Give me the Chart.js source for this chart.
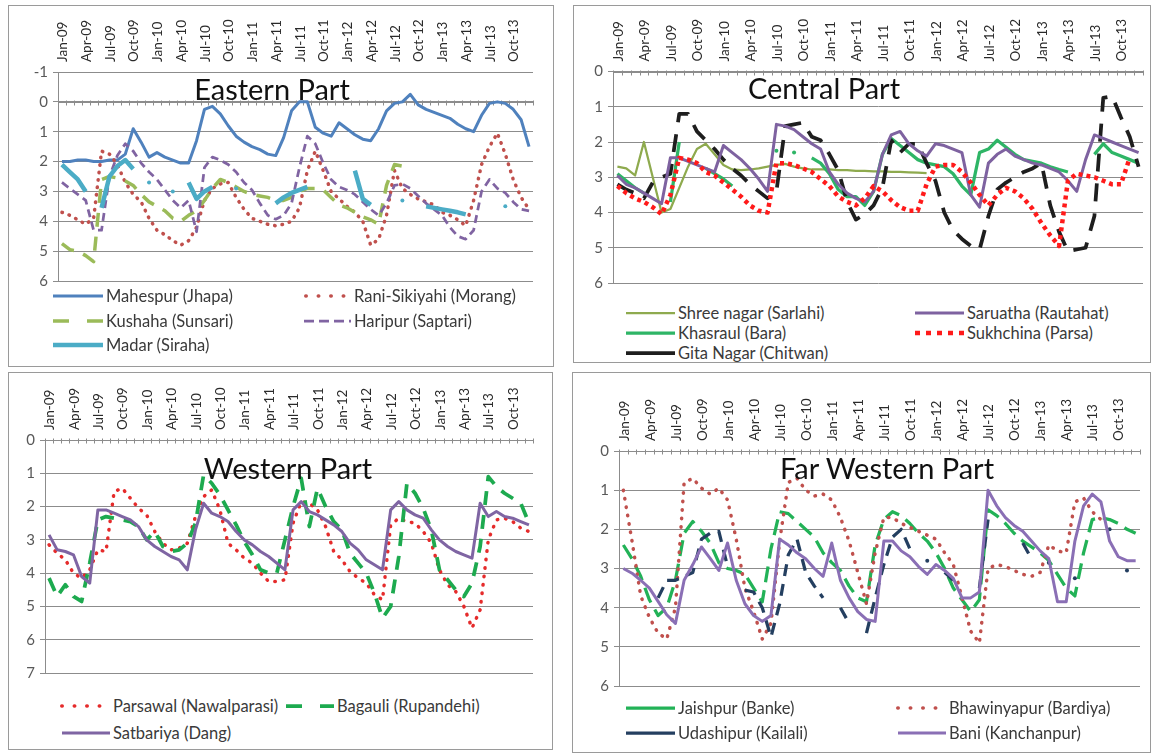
<!DOCTYPE html>
<html><head><meta charset="utf-8">
<script src="https://cdn.jsdelivr.net/npm/chart.js@4.4.1/dist/chart.umd.min.js"></script>
<style>
body{margin:0;background:#fff;width:1155px;height:754px;position:relative;overflow:hidden;font-family:Lato,"Open Sans",sans-serif;}
.panel{position:absolute;border:1px solid #9a9a9a;box-sizing:border-box;}
.cv{position:absolute;}
.ttl{position:absolute;font-size:29px;color:#111;white-space:nowrap;transform:translate(-50%,-50%);}
.lg{position:absolute;font-size:16.5px;color:#3a3a3a;white-space:nowrap;transform:translateY(-50%);}
.sw{position:absolute;transform:translateY(-50%);}
</style></head><body>
<div class="panel" style="left:8px;top:5px;width:546px;height:362px"></div>
<div class="panel" style="left:573px;top:5px;width:578px;height:358px"></div>
<div class="panel" style="left:8px;top:372px;width:545px;height:378px"></div>
<div class="panel" style="left:572px;top:372px;width:579px;height:381px"></div>
<canvas id="c1" class="cv" style="left:8px;top:5px" width="545" height="290"></canvas>
<canvas id="c2" class="cv" style="left:573px;top:5px" width="578" height="292"></canvas>
<canvas id="c3" class="cv" style="left:8px;top:372px" width="545" height="315"></canvas>
<canvas id="c4" class="cv" style="left:572px;top:372px" width="579" height="328"></canvas>
<div class="ttl" style="left:272px;top:88px">Eastern Part</div>
<div class="ttl" style="left:824px;top:87px">Central Part</div>
<div class="ttl" style="left:288px;top:467px">Western Part</div>
<div class="ttl" style="left:887px;top:467px">Far Western Part</div>
<script>
const months = ["Jan-09","Feb-09","Mar-09","Apr-09","May-09","Jun-09","Jul-09","Aug-09","Sep-09","Oct-09","Nov-09","Dec-09",
"Jan-10","Feb-10","Mar-10","Apr-10","May-10","Jun-10","Jul-10","Aug-10","Sep-10","Oct-10","Nov-10","Dec-10",
"Jan-11","Feb-11","Mar-11","Apr-11","May-11","Jun-11","Jul-11","Aug-11","Sep-11","Oct-11","Nov-11","Dec-11",
"Jan-12","Feb-12","Mar-12","Apr-12","May-12","Jun-12","Jul-12","Aug-12","Sep-12","Oct-12","Nov-12","Dec-12",
"Jan-13","Feb-13","Mar-13","Apr-13","May-13","Jun-13","Jul-13","Aug-13","Sep-13","Oct-13","Nov-13","Dec-13"];

// Eastern Part
const mahespur = [2.0,2.0,1.95,1.95,2.0,2.0,1.95,1.95,1.75,0.9,
 1.35,1.85,1.7,1.85,1.95,2.05,2.05,1.3,0.25,0.15,
 0.4,0.8,1.15,1.35,1.5,1.6,1.75,1.8,1.2,0.3,
 0.0,0.0,0.85,1.05,1.15,0.7,0.9,1.1,1.25,1.3,
 0.9,0.3,0.05,0.0,-0.25,0.1,0.25,0.35,0.45,0.55,
 0.75,0.9,1.0,0.45,0.05,0.0,0.05,0.25,0.6,1.5];
const raniSikiyahi = [3.7,3.8,3.95,4.1,3.9,1.65,1.75,2.1,2.7,3.1,
 3.35,3.9,4.3,4.45,4.65,4.8,4.65,4.2,3.3,2.9,
 2.75,2.7,3.2,3.6,3.9,4.0,4.1,4.15,4.1,4.0,
 3.55,2.3,1.65,2.3,3.0,3.25,3.5,3.7,4.0,4.8,
 4.6,3.8,2.3,2.9,3.1,3.25,3.35,3.45,3.7,3.8,
 3.95,4.15,3.3,2.1,1.5,1.05,1.75,2.6,3.2,3.6];
const kushaha = [4.75,4.95,5.0,5.15,5.35,2.6,2.5,2.55,2.65,2.8,
 3.1,3.35,3.5,3.65,3.9,4.0,3.8,3.65,3.3,2.9,
 2.6,2.7,2.85,3.0,3.1,3.15,3.2,3.3,3.3,3.2,
 3.0,2.9,2.9,2.95,3.2,3.45,3.55,3.7,3.85,3.95,
 4.1,2.8,2.1,2.15,null,null,null,null,null,null,
 null,null,null,null,null,null,null,null,null,null];
const haripur = [2.7,2.9,3.1,3.3,4.3,4.3,2.5,1.8,1.4,1.65,
 2.05,2.35,2.6,2.95,3.3,3.55,3.3,4.35,2.2,1.85,
 1.95,2.1,2.35,2.7,2.95,3.4,3.8,3.93,3.8,3.4,
 2.2,1.15,1.4,2.05,2.6,2.85,2.95,3.1,3.35,3.6,
 3.8,3.4,2.8,2.75,2.9,3.15,3.4,3.6,3.8,4.2,
 4.5,4.6,4.3,3.0,2.6,2.9,3.05,3.35,3.6,3.65];
const madar = [2.1,2.35,2.6,3.0,null,3.55,2.5,2.15,1.95,2.25,
 null,2.7,null,null,3.0,null,2.7,3.25,3.0,2.85,
 null,null,2.9,null,null,null,null,3.4,3.2,3.05,
 2.95,2.85,null,null,null,null,null,2.3,3.25,3.45,
 null,null,null,3.3,null,null,3.5,3.55,3.6,3.65,
 3.7,3.77,null,null,null,null,3.5,null,null,null];

// Central Part
const shreeNagar = [2.7,2.75,2.95,2.0,3.0,4.0,3.9,3.3,2.7,2.2,
 2.05,2.35,2.65,2.78,2.8,2.78,2.75,2.7,2.65,2.62,
 2.7,2.75,2.78,2.78,2.78,2.8,2.8,2.82,2.82,2.83,
 2.83,2.85,2.85,2.86,2.87,2.88,null,null,null,null,
 null,null,null,null,null,null,null,null,null,null,
 null,null,null,null,null,null,null,null,null,null];
const khasraul = [2.9,3.1,3.3,3.45,null,null,3.7,2.0,null,null,
 2.75,2.9,3.05,3.25,null,null,null,null,2.25,null,
 2.3,null,2.45,2.6,2.9,3.35,3.55,3.55,3.8,3.4,
 2.35,1.9,2.1,2.3,2.5,2.6,2.65,2.7,2.9,3.25,
 3.5,2.3,2.2,1.95,2.15,2.35,2.5,2.55,2.6,2.7,
 2.78,2.85,null,null,2.35,2.05,2.3,2.4,2.5,2.6];
const gitaNagar = [3.2,3.35,3.45,3.6,3.15,3.0,2.9,1.2,1.2,1.7,
 1.95,2.2,2.5,2.75,2.95,3.2,3.4,3.6,3.4,1.55,
 1.5,1.45,1.85,1.95,2.35,2.8,3.7,4.2,4.05,3.8,
 3.3,1.95,2.3,2.05,2.05,2.6,3.1,4.0,4.5,4.75,
 4.95,5.05,4.1,3.35,3.15,3.0,2.85,2.75,2.6,3.8,
 4.55,5.1,5.05,5.0,4.1,0.75,0.7,1.3,1.85,2.7];
const saruatha = [2.95,3.2,3.3,3.45,3.6,3.75,2.45,2.45,2.55,2.65,
 2.75,2.85,2.1,2.3,2.5,2.75,3.05,3.4,1.5,1.55,
 1.65,1.85,2.05,2.2,2.85,3.2,3.45,3.6,3.7,3.4,
 2.35,1.8,1.7,2.05,2.25,2.4,2.05,2.1,2.2,2.3,
 3.5,3.85,2.6,2.35,2.2,2.4,2.5,2.6,2.65,2.75,
 2.85,3.1,3.4,2.5,1.8,1.9,2.0,2.1,2.2,2.3];
const sukhchina = [3.25,3.45,3.6,3.7,3.85,4.05,3.5,2.45,2.5,2.6,
 2.85,2.95,3.15,3.35,3.55,3.8,3.95,4.0,2.6,2.6,
 2.65,2.75,2.85,3.05,3.25,3.55,3.7,3.8,3.6,3.25,
 3.4,3.65,3.85,3.95,3.95,3.2,2.7,2.65,2.65,2.85,
 3.15,3.5,3.8,3.5,3.3,3.4,3.6,3.9,4.3,4.65,
 4.95,3.1,2.9,2.95,3.0,3.1,3.2,3.2,2.45,null];

// Western Part
const parsawal = [3.15,3.4,3.6,4.0,4.15,3.9,3.3,3.35,1.55,1.45,
 1.75,2.05,2.25,2.75,3.1,3.3,3.25,3.1,2.3,1.7,
 1.5,2.1,3.1,3.3,3.55,3.7,4.0,4.25,4.25,4.2,
 2.5,1.85,1.9,2.1,2.6,3.35,3.6,3.95,4.15,4.3,
 4.65,4.8,2.55,2.35,2.45,2.5,2.75,3.1,3.9,4.35,
 4.55,5.0,5.65,5.1,3.0,2.4,2.35,2.45,2.65,2.75];
const bagauli = [4.15,4.7,4.35,4.7,4.85,3.7,2.4,2.3,2.35,2.4,
 2.45,2.6,3.0,2.75,3.2,3.35,3.3,3.1,2.5,1.05,
 1.3,1.65,2.1,2.55,3.05,3.45,3.9,4.0,4.0,3.0,
 2.0,1.15,2.6,1.45,2.0,2.45,2.7,3.4,3.7,4.0,
 4.6,5.35,5.0,3.5,1.3,1.6,2.05,2.7,3.9,4.2,
 4.5,4.7,4.3,3.2,1.1,1.4,1.6,1.75,1.9,2.5];
const satbariya = [2.85,3.3,3.35,3.45,4.1,4.3,2.1,2.1,2.2,2.3,
 2.4,2.6,3.0,3.2,3.35,3.5,3.6,3.9,2.7,1.9,
 2.2,2.3,2.45,2.75,3.0,3.15,3.35,3.5,3.7,3.9,
 2.1,1.85,2.15,2.25,2.4,2.55,2.75,3.1,3.3,3.6,
 3.75,3.9,2.1,1.85,2.1,2.25,2.35,2.7,3.0,3.2,
 3.35,3.45,3.55,1.9,2.3,2.15,2.3,2.35,2.45,2.55];

// Far Western Part
const jaishpur = [2.4,2.75,3.2,3.8,4.2,4.0,3.3,2.1,1.8,2.05,
 2.35,2.85,3.0,3.05,3.15,3.5,3.85,2.5,1.55,1.6,
 1.8,2.0,2.2,2.6,2.85,3.05,3.45,3.75,3.85,2.4,
 1.75,1.55,1.65,1.85,2.1,2.3,2.6,3.0,3.5,3.8,
 4.1,3.8,1.5,1.65,1.85,2.1,2.3,2.45,2.6,2.8,
 3.15,3.5,3.7,2.6,1.75,1.7,1.75,1.85,2.0,2.1];
const bhawinyapur = [1.0,2.3,3.7,4.25,4.65,4.8,4.0,0.8,0.7,0.95,
 1.1,0.95,1.25,2.25,3.5,4.1,4.8,4.4,2.3,0.8,
 0.7,1.0,1.15,1.1,1.25,1.7,2.3,3.1,3.9,2.6,
 1.7,1.7,1.85,1.95,2.05,2.15,2.25,2.6,2.9,3.75,
 4.6,4.9,3.0,2.9,2.95,3.05,3.15,3.2,3.1,2.4,
 2.55,2.6,1.3,1.2,1.55,1.75,null,null,null,null];
const udashipur = [null,null,null,null,3.75,3.3,3.3,3.2,3.1,2.25,
 2.1,2.05,2.95,null,3.55,3.6,4.0,4.75,3.9,2.65,
 2.25,3.1,3.45,3.75,null,4.0,4.4,null,4.65,3.75,
 2.9,2.2,2.0,2.5,null,2.8,null,3.1,3.3,null,
 null,3.5,1.75,null,null,null,2.35,2.75,null,2.85,
 null,null,3.25,null,null,null,2.0,null,3.05,null];
const bani = [3.0,3.12,3.3,3.5,3.84,4.18,4.4,3.3,2.9,2.45,
 2.74,3.05,2.35,3.3,3.9,4.2,4.35,4.2,2.25,2.4,
 2.6,2.75,3.0,3.2,2.35,3.3,3.75,4.1,4.3,4.35,
 2.3,2.3,2.55,2.7,2.95,3.15,2.9,3.05,3.25,3.75,
 3.75,3.6,1.0,1.4,1.7,1.9,2.05,2.3,2.55,2.75,
 3.85,3.85,2.3,1.4,1.1,1.3,2.3,2.7,2.8,2.8];

const GRID = '#8c8c8c';
const FONT = 'Lato, "Open Sans", sans-serif';

function isoRadius(ctx){
  const d = ctx.dataset.data, i = ctx.dataIndex;
  if (d[i] == null) return 0;
  const p = i > 0 ? d[i-1] : null, n = i < d.length-1 ? d[i+1] : null;
  return (p == null && n == null) ? 2 : 0;
}

const zeroTicks = {
  id: 'zeroTicks',
  beforeDatasetsDraw(chart){
    const x = chart.scales.x, y = chart.scales.y, ctx = chart.ctx;
    const y0 = Math.round(y.getPixelForValue(0)) + 0.5;
    const n = chart.data.labels.length, w = (x.right - x.left) / n;
    ctx.save(); ctx.strokeStyle = GRID; ctx.lineWidth = 1; ctx.beginPath();
    for (let i = 0; i <= n; i++){ const px = Math.round(x.left + i*w) + 0.5; ctx.moveTo(px, y0-2); ctx.lineTo(px, y0+3); }
    ctx.moveTo(x.left, y0); ctx.lineTo(x.right, y0);
    ctx.stroke(); ctx.restore();
  }
};

function makeChart(p){
  const datasets = p.series.map((s, k) => ({
    label: s.label, data: s.data, borderColor: s.color, backgroundColor: s.color,
    borderWidth: s.width, borderDash: s.dash || [], borderCapStyle: s.cap || 'butt',
    borderJoinStyle: 'round', pointRadius: isoRadius, pointHoverRadius: 0, pointBorderWidth: 0,
    tension: 0, spanGaps: false, fill: false, order: -k
  }));
  new Chart(document.getElementById(p.id), {
    type: 'line',
    data: { labels: months, datasets },
    plugins: [zeroTicks],
    options: {
      responsive: false, animation: false, devicePixelRatio: 1,
      layout: { padding: { left: 0, top: 0, right: p.pr, bottom: p.pb } },
      plugins: { legend: { display: false }, tooltip: { enabled: false }, title: { display: false } },
      scales: {
        x: {
          position: 'top', offset: true,
          grid: { display: false, drawTicks: false },
          border: { display: false },
          ticks: { autoSkip: false, minRotation: 90, maxRotation: 90, padding: 10, labelOffset: 17,
            color: '#2a2a2a', font: { family: FONT, size: 13.5 },
            callback: (v, i) => (i % 3 === 0 ? months[i] : '') },
          afterFit: s => { s.height = p.xH; }
        },
        y: {
          reverse: true, min: p.yMin, max: p.yMax,
          grid: { color: GRID, lineWidth: 1, drawTicks: true, tickLength: 5, tickColor: GRID },
          border: { display: true, color: GRID, width: 1 },
          ticks: { stepSize: 1, padding: 5, color: '#595959', font: { family: FONT, size: 15 } },
          afterFit: s => { s.width = p.yW; }
        }
      }
    }
  });
  // legend (HTML text with line samples)
  p.series.forEach((s, k) => {
    const L = p.legend[k];
    const sx = L[0], sy = L[1], tx = L[2], sw = tx - sx - 3;
    const svgNS = 'http://www.w3.org/2000/svg';
    const svg = document.createElementNS(svgNS, 'svg');
    svg.setAttribute('width', sw); svg.setAttribute('height', 10);
    svg.setAttribute('class', 'sw');
    svg.style.left = sx + 'px'; svg.style.top = sy + 'px';
    const ln = document.createElementNS(svgNS, 'line');
    const cap = s.cap || 'butt';
    const pad = cap === 'round' ? s.width/2 : 0;
    ln.setAttribute('x1', pad); ln.setAttribute('x2', sw - pad); ln.setAttribute('y1', 5); ln.setAttribute('y2', 5);
    ln.setAttribute('stroke', s.color); ln.setAttribute('stroke-width', s.lw || s.width);
    ln.setAttribute('stroke-linecap', cap);
    if (s.ldash) ln.setAttribute('stroke-dasharray', s.ldash.join(' '));
    svg.appendChild(ln);
    document.body.appendChild(svg);
    const t = document.createElement('div');
    t.className = 'lg'; t.textContent = s.label;
    t.style.left = tx + 'px'; t.style.top = sy + 'px';
    document.body.appendChild(t);
  });
}

makeChart({ id: 'c1', yMin: -1, yMax: 6, yW: 50, xH: 67, pr: 20, pb: 12,
  series: [
    { label: 'Mahespur (Jhapa)', data: mahespur, color: '#4F81BD', width: 3 },
    { label: 'Rani-Sikiyahi (Morang)', data: raniSikiyahi, color: '#C0504D', width: 3.5, dash: [0.5, 7], cap: 'round', ldash: [0.5, 12] },
    { label: 'Kushaha (Sunsari)', data: kushaha, color: '#9BBB59', width: 3.5, dash: [14, 10], ldash: [16, 18] },
    { label: 'Haripur (Saptari)', data: haripur, color: '#8064A2', width: 2.75, dash: [8, 5], ldash: [10, 5] },
    { label: 'Madar (Siraha)', data: madar, color: '#4BACC6', width: 4.5 }
  ],
  legend: [[53, 296, 106], [304, 296, 354], [53, 321, 106], [304, 321, 354], [53, 345, 106]]
});
makeChart({ id: 'c2', yMin: 0, yMax: 6, yW: 40, xH: 66.5, pr: 8, pb: 12,
  series: [
    { label: 'Shree nagar (Sarlahi)', data: shreeNagar, color: '#8EAA4E', width: 2.25 },
    { label: 'Khasraul (Bara)', data: khasraul, color: '#2EB566', width: 3.25 },
    { label: 'Gita Nagar (Chitwan)', data: gitaNagar, color: '#1E1E1E', width: 3.75, dash: [18, 12] },
    { label: 'Saruatha (Rautahat)', data: saruatha, color: '#7E62A0', width: 3 },
    { label: 'Sukhchina (Parsa)', data: sukhchina, color: '#FF1A1A', width: 4.5, dash: [4, 4], ldash: [5, 6] }
  ],
  legend: [[626, 313, 678], [626, 333, 678], [626, 353, 678], [915, 313, 967], [915, 333, 967]]
});
makeChart({ id: 'c3', yMin: 0, yMax: 7, yW: 37, xH: 68, pr: 20, pb: 13,
  series: [
    { label: 'Parsawal (Nawalparasi)', data: parsawal, color: '#E52B2B', width: 3.5, dash: [0.5, 8], cap: 'round', ldash: [0.5, 12] },
    { label: 'Bagauli (Rupandehi)', data: bagauli, color: '#1DAA4F', width: 3.75, dash: [14, 10], ldash: [16, 18] },
    { label: 'Satbariya (Dang)', data: satbariya, color: '#7F65A3', width: 3 }
  ],
  legend: [[60, 706, 113], [286, 706, 337], [62, 733, 113]]
});
makeChart({ id: 'c4', yMin: 0, yMax: 6, yW: 47, xH: 79, pr: 11, pb: 12,
  series: [
    { label: 'Jaishpur (Banke)', data: jaishpur, color: '#22B257', width: 3.25, dash: [16, 8] },
    { label: 'Bhawinyapur (Bardiya)', data: bhawinyapur, color: '#C0504D', width: 3.5, dash: [0.5, 8], cap: 'round', ldash: [0.5, 12] },
    { label: 'Udashipur (Kailali)', data: udashipur, color: '#243F60', width: 3.25, dash: [12, 8] },
    { label: 'Bani (Kanchanpur)', data: bani, color: '#8A6FB5', width: 3 }
  ],
  legend: [[626, 708, 678], [896, 708, 949], [626, 733, 678], [898, 733, 949]]
});
</script>
</body></html>
